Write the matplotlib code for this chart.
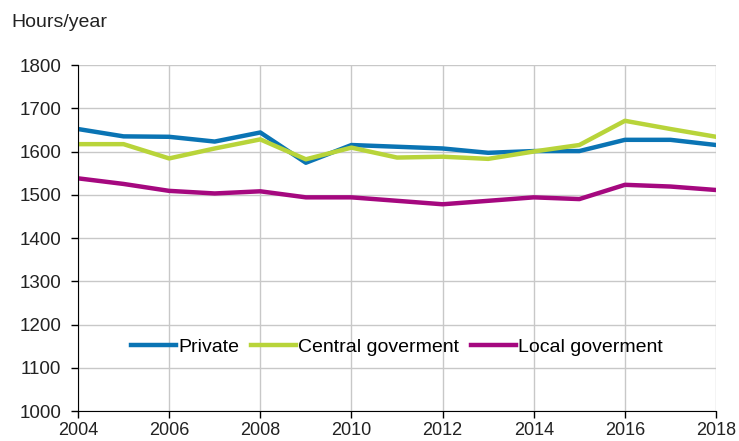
import matplotlib.pyplot as plt

plt.rcParams['font.family'] = ['Liberation Sans', 'DejaVu Sans']

# Data
years = list(range(2004, 2019))
private = [1652, 1635, 1634, 1623, 1644, 1574, 1615, 1611, 1607, 1597, 1601, 1601, 1627, 1627, 1615]
central = [1617, 1617, 1584, 1607, 1628, 1582, 1609, 1586, 1588, 1583, 1600, 1615, 1671, 1652, 1634]
local = [1538, 1525, 1509, 1503, 1508, 1494, 1494, 1486, 1478, 1486, 1494, 1490, 1523, 1519, 1511]

fig = plt.figure(figsize=(7.39, 4.41), dpi=100)
ax = fig.add_axes([0.1055, 0.068, 0.8635, 0.7846])

ax.plot(years, private, color="#0a74b4", lw=3.2, label="Private")
ax.plot(years, central, color="#b8d43a", lw=3.2, label="Central goverment")
ax.plot(years, local, color="#a5087f", lw=3.2, label="Local goverment")

ax.set_xlim(2004, 2018)
ax.set_ylim(1000, 1800)
ax.set_xticks(range(2004, 2019, 2))
ax.set_yticks(range(1000, 1801, 100))
ax.grid(True, color="#c8c8c8", lw=1)
ax.set_axisbelow(True)
for s in ["top", "right"]:
    ax.spines[s].set_visible(False)
ax.spines["left"].set_color("black")
ax.spines["bottom"].set_color("black")
ax.tick_params(labelsize=13.5, length=5, width=1, colors="black", labelcolor="#222222")
ax.tick_params(axis="y", pad=7)
ax.tick_params(axis="x", pad=3, labelsize=13)

fig.text(0.015, 0.948, "Hours/year", fontsize=14, va="center", color="#222222")

ax.legend(loc="center", bbox_to_anchor=(0.5, 0.185), ncol=3, frameon=False,
          fontsize=14, handlelength=2.3, handletextpad=0.12, columnspacing=0.6)

fig.savefig("out.png", dpi=100)
